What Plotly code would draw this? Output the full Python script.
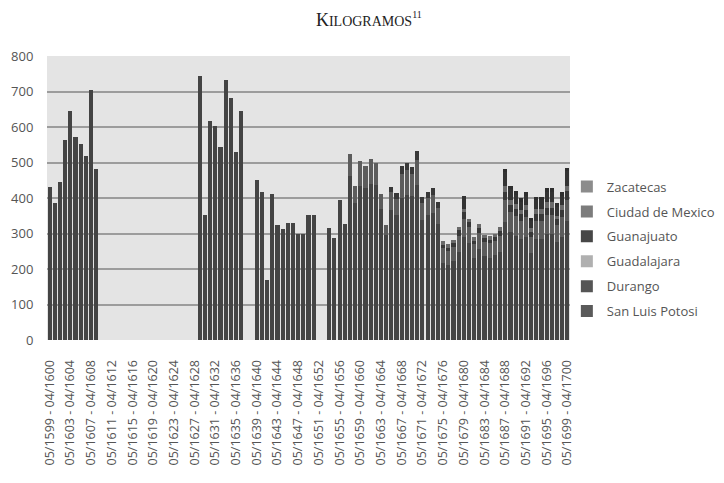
import plotly.graph_objects as go

# ---- categories (05/YYYY - 04/YYYY+1), 1599..1699 ----
start_years = list(range(1599, 1700))
periods = [f"05/{y} - 04/{y+1}" for y in start_years]
tick_periods = periods[::4]

N = None
# Zacatecas (bulk of each bar)
zacatecas = (
    [430, 385, 445, 562, 645, 573, 553, 517, 705, 482]          # 1599-1608
    + [N] * 19                                                  # 1609-1627
    + [743, 353, 618, 604, 543, 733, 683, 529, 645]             # 1628-1636
    + [N, N]                                                    # 1637-1638
    + [451, 416, 168, 410, 323, 312, 329, 329, 298, 298, 352, 352]  # 1639-1650
    + [N, N]                                                    # 1651-1652
    + [315, 287, 395, 327, 463, 385, 434, 429, 440, 438,         # 1653-1662
       370, 295, 367, 353, 399, 408, 407, 437, 337, 351,         # 1663-1672
       358, 328, 218, 210, 222, 249, 290, 272, 230, 256,         # 1673-1682
       236, 232, 240, 248, 333, 305, 294, 285, 291, 245,         # 1683-1692
       284, 284, 298, 298, 275, 291, 335]                        # 1693-1699
)

pad = [N] * 54  # 1599-1652 : no values for the smaller cajas
ciudad_mexico = pad + [
    0, 0, 0, 0, 60, 50, 70, 60, 70, 60,
    40, 30, 50, 45, 70, 70, 60, 70, 50, 50,
    50, 45, 40, 40, 40, 45, 50, 45, 40, 45,
    40, 40, 40, 45, 60, 55, 55, 50, 55, 45,
    50, 50, 55, 55, 50, 55, 60]
guanajuato = pad + [
    0, 0, 0, 0, 0, 0, 0, 0, 0, 0,
    0, 0, 15, 15, 20, 20, 20, 25, 15, 15,
    20, 15, 10, 10, 10, 15, 20, 15, 10, 15,
    10, 10, 10, 15, 25, 20, 20, 20, 20, 15,
    20, 20, 20, 20, 15, 20, 25]
guadalajara = pad + [
    0, 0, 0, 0, 0, 0, 0, 0, 0, 0,
    0, 0, 0, 0, 0, 0, 0, 0, 0, 0,
    0, 0, 10, 10, 10, 10, 10, 10, 10, 10,
    10, 10, 10, 10, 15, 15, 15, 10, 15, 10,
    15, 15, 15, 15, 10, 15, 15]
durango = pad + [
    0, 0, 0, 0, 0, 0, 0, 0, 0, 0,
    0, 0, 0, 0, 0, 0, 0, 0, 0, 0,
    0, 0, 0, 0, 0, 0, 35, 0, 0, 0,
    0, 0, 0, 0, 40, 30, 25, 25, 25, 20,
    25, 25, 30, 30, 25, 25, 40]
san_luis_potosi = pad + [
    0, 0, 0, 0, 0, 0, 0, 0, 0, 0,
    0, 0, 0, 0, 0, 0, 0, 0, 0, 0,
    0, 0, 0, 0, 0, 0, 0, 0, 0, 0,
    0, 0, 0, 0, 10, 10, 10, 10, 10, 10,
    10, 10, 10, 10, 10, 10, 10]

series_names = ["Zacatecas", "Ciudad de Mexico", "Guanajuato",
                "Guadalajara", "Durango", "San Luis Potosi"]
series_values = [zacatecas, ciudad_mexico, guanajuato,
                 guadalajara, durango, san_luis_potosi]
series_colors = ["#444444", "#5c5c5c", "#383838", "#6a6a6a", "#333333", "#2e2e2e"]
legend_colors = ["#8c8c8c", "#7c7c7c", "#474747", "#b0b0b0", "#555555", "#5a5a5a"]

y_ticks = [0, 100, 200, 300, 400, 500, 600, 700, 800]

fig = go.Figure()
for name, vals, col in zip(series_names, series_values, series_colors):
    fig.add_trace(go.Bar(
        x=periods, y=vals, name=name, legendgroup=name, showlegend=False,
        marker=dict(color=col, line=dict(width=0)),
    ))
# legend entries (swatch tones as printed in the legend)
for name, lcol in zip(series_names, legend_colors):
    fig.add_trace(go.Bar(
        x=[periods[0]], y=[None], name=name, legendgroup=name, showlegend=True,
        marker=dict(color=lcol, line=dict(width=0)), hoverinfo="skip",
    ))

# the page body has an 8px margin, so the figure is sized/offset for it
fig.update_layout(
    width=716, height=475,
    barmode="stack", bargap=0.2,
    paper_bgcolor="white", plot_bgcolor="#e4e4e4",
    margin=dict(l=39, r=154, t=48, b=143, autoexpand=False),
    title=dict(
        text="K<span style='font-size:14px'>ILOGRAMOS</span>"
             "<sup><span style='font-size:10px'>11</span></sup>",
        x=0.504, xanchor="center", y=0.976, yanchor="middle", yref="container",
        font=dict(family="Liberation Serif", size=18, color="#222222"),
    ),
    font=dict(family="Open Sans", color="#444444"),
    legend=dict(
        x=0.994, xanchor="left", y=0.32, yanchor="middle",
        traceorder="grouped", tracegroupgap=5,
        font=dict(family="Open Sans", size=13, color="#555555"),
        bgcolor="rgba(0,0,0,0)",
    ),
    showlegend=True,
)
fig.update_xaxes(
    type="category", categoryorder="array", categoryarray=periods,
    tickmode="array", tickvals=tick_periods, ticktext=tick_periods,
    tickangle=-90, tickfont=dict(size=12.5, color="#555555", family="Open Sans"),
    showgrid=False, zeroline=False, showline=False,
    ticks="outside", ticklen=6, tickcolor="rgba(0,0,0,0)",
    ticklabelstandoff=8,
)
fig.update_yaxes(
    range=[0, 800], tickvals=y_ticks,
    showgrid=True, gridcolor="#9c9c9c", gridwidth=1.5,
    zeroline=False, showline=False,
    ticks="outside", ticklen=5, tickcolor="rgba(0,0,0,0)",
    tickfont=dict(size=13, color="#555555", family="Open Sans"),
    ticklabelstandoff=5,
)

fig.write_html("out.html")
